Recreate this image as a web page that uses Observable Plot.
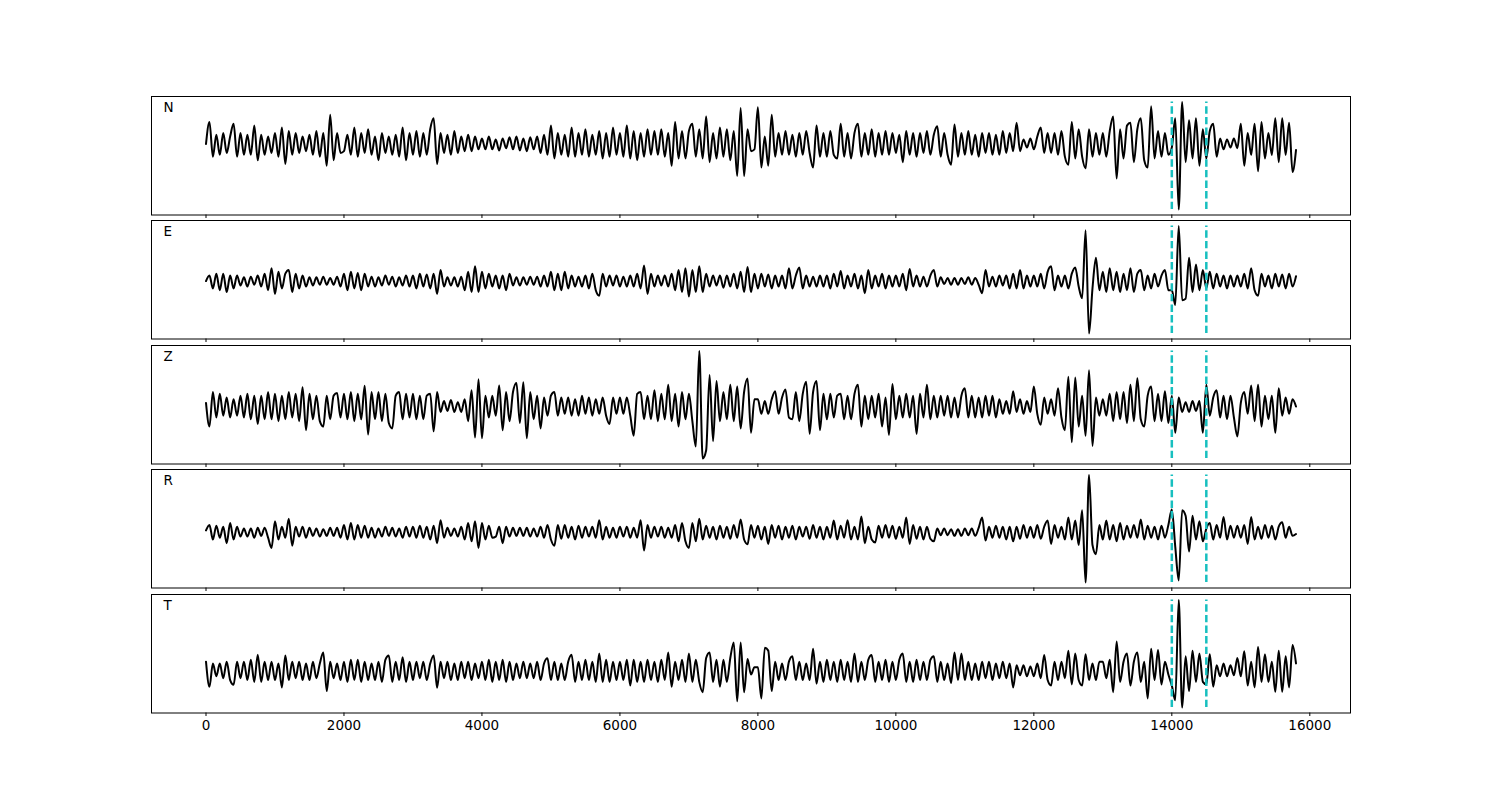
<!DOCTYPE html>
<html><head><meta charset="utf-8">
<script src="https://cdn.jsdelivr.net/npm/d3@7"></script>
<script src="https://cdn.jsdelivr.net/npm/@observablehq/plot@0.6"></script>
<style>
body{margin:0;background:#fff;}
#fig{position:relative;width:1500px;height:800px;font-family:"DejaVu Sans",sans-serif;}
#fig svg{position:absolute;left:0;overflow:visible;max-width:none;}
</style>
</head><body><div id="fig"></div>
<script>
// sample spacing of the traces (time units)
const dt = 50;
const channels = ["N", "E", "Z", "R", "T"];
const picks = [14000, 14500];
const xTicks = [0, 2000, 4000, 6000, 8000, 10000, 12000, 14000, 16000];

const traceN = [
0,60,-35,25,-30,30,-25,20,55,-35,30,-30,25,-30,50,-45,25,-30,20,-25,
30,-35,45,-55,35,-30,30,-25,20,-20,25,-30,35,-35,30,-60,80,-45,30,-25,
-20,25,-30,45,-35,30,-25,40,-30,20,-45,30,-25,20,-30,25,-35,45,-45,30,
-30,35,-35,30,-30,40,70,-55,30,-25,25,-30,35,-25,20,-20,25,-20,20,-15,
15,-15,20,-15,12,-18,15,-12,18,-15,20,-18,15,-20,18,-15,20,-25,25,-30,
50,-40,30,-30,25,-35,45,-35,30,-30,40,-35,25,-30,35,-40,30,-35,45,-30,
30,-35,50,-40,35,-45,30,-35,40,-30,35,-30,40,-35,30,-60,60,-40,35,-40,
35,55,-35,40,-40,75,-50,30,-40,45,-35,40,-45,35,-88,98,-88,40,-20,-15,
100,-65,20,-60,80,-35,30,-30,35,-30,25,-35,30,-30,35,-25,-65,50,-35,30,
-35,35,-30,-40,55,-35,30,-40,30,55,-35,30,-30,40,-35,30,-30,35,-30,30,
-25,25,-50,35,-30,30,-35,30,-25,35,-30,25,48,-35,30,-30,-57,53,-35,30,
-30,35,-30,25,-35,30,-25,30,-30,25,-30,35,-25,30,-20,58,-20,12,-10,15,
-15,20,45,-25,30,-25,30,-30,35,-35,-57,60,-40,40,-35,-67,40,-35,30,-30,
30,-35,35,75,-95,40,-40,50,58,-50,40,70,-45,-65,103,-40,35,-35,30,-30,
-10,70,-180,115,-50,65,-40,70,-60,40,-40,35,55,-35,15,-15,12,-10,15,-12,
55,-60,30,-30,55,-75,60,-40,30,-30,70,-50,70,-30,58,-77,-17
];

const traceE = [
0,15,-20,20,-25,20,-30,15,-20,15,-12,10,-15,12,-10,15,-15,20,-25,35,
-35,25,-20,20,30,-30,20,-20,15,-15,10,-12,10,-10,12,-10,8,-10,12,-15,
20,-25,25,-20,22,-25,20,-15,12,-15,10,-12,15,-10,12,-15,10,-12,15,-15,
15,-20,20,-15,18,-20,20,-35,30,-15,10,-12,10,-15,12,-25,25,-30,40,-30,
25,-20,20,-15,15,-20,15,-25,20,-12,10,-12,10,-10,12,-10,12,-15,15,-15,
25,-25,20,-25,25,-20,15,-15,12,-15,15,-20,20,-25,-40,20,-15,15,-12,15,
-15,12,-15,15,-15,20,-20,42,-35,20,-15,15,-12,15,-15,20,-25,30,-30,35,
-42,30,-30,40,-30,20,-15,15,-12,15,-18,15,-15,20,-20,25,-30,38,-30,20,
-20,20,-15,18,-20,15,-15,15,-20,35,-20,15,37,-20,15,-15,12,-15,15,-15,
15,-20,20,-15,27,-20,15,-15,20,-20,15,-33,30,-20,15,-15,20,-20,15,-15,
15,-15,20,-25,33,-15,15,-15,12,-15,15,30,-15,10,-8,8,-10,8,-10,8,
-8,10,-10,8,-10,-33,30,-15,12,-15,15,-12,15,-20,20,-20,30,-20,15,-15,
15,-15,20,-20,25,40,-25,15,-15,15,-20,20,37,-15,-47,138,-143,-20,63,-25,
25,-30,35,-25,25,-30,20,-25,35,-30,20,30,-25,15,-20,20,-15,15,30,-25,
-25,-65,150,-52,-48,63,-30,45,-25,30,-20,25,-20,20,-15,15,-20,15,-15,15,
-15,20,-20,35,-25,-40,20,-15,15,-20,20,-15,18,-20,20,-15,13
];

const traceZ = [
10,-55,40,-30,35,-25,25,-30,20,-25,30,-30,35,-35,30,-48,30,-35,40,-35,
35,-40,30,-35,40,-30,35,-40,53,-65,35,-35,30,-40,-55,30,-35,30,37,-30,
35,-35,40,-40,35,-35,57,-77,40,-35,40,-40,35,-45,-60,30,40,-35,35,-30,
35,-35,30,-35,30,35,-68,40,-15,15,-12,18,-15,12,-15,20,-40,45,-85,75,
-87,30,-30,30,-25,58,-65,40,-40,40,65,-45,67,-87,40,-35,30,-60,25,-25,
30,40,-25,25,-20,25,-25,20,-25,30,-20,25,-25,20,-20,25,-25,-48,25,-20,
25,-20,25,-25,-80,35,40,-35,30,-35,45,-40,35,-35,60,-40,35,-55,40,-35,
35,-40,-110,153,-143,-120,87,-95,70,-40,40,-35,60,-40,55,-60,40,77,-72,20,
20,-20,15,-20,20,42,-20,25,47,-30,-35,40,-40,35,68,-75,40,70,-65,35,
-35,35,-30,30,35,-35,30,-35,35,60,-55,30,-35,30,-30,35,-55,25,-78,62,
-35,30,-30,35,-30,30,-75,35,-30,60,-35,30,-30,30,-25,30,-30,25,-30,30,
50,-30,30,-30,25,-30,30,-25,30,-30,20,-20,15,-20,42,-15,20,-20,15,-15,
55,-20,-50,25,-20,20,-25,50,-30,-65,82,-98,80,-55,30,-80,100,-108,25,-25,
20,-25,35,-40,40,-35,40,-45,60,-40,78,-35,-55,30,55,-40,35,-40,42,-45,
30,-72,25,-15,12,-15,15,-12,15,-72,60,-25,25,45,-30,30,-35,30,-30,-82,
10,40,-20,58,-40,60,-55,30,-35,30,-72,50,-25,25,-20,20,0
];

const traceR = [
5,20,-20,18,-15,15,-30,25,-20,15,-12,10,-12,10,-15,12,-10,12,-15,-43,
30,-20,15,-15,37,-37,15,-12,15,-15,12,-10,10,-12,8,-10,12,-10,12,-15,
20,-20,25,-20,20,-15,18,-15,12,-15,10,-12,15,-10,12,-12,10,-15,15,-12,
15,-15,18,-15,15,-20,18,-30,33,-15,12,-10,10,-12,15,-20,25,-25,30,-43,
25,-20,18,-15,-12,15,-30,15,-12,12,-10,12,-10,12,-12,10,-12,15,-15,20,
-20,-37,20,-18,20,-15,15,-20,18,-15,15,-12,15,-15,33,-20,15,-15,12,-15,
15,-12,15,-15,12,-15,33,-50,20,-15,15,-12,15,-15,12,-15,20,-25,25,-25,
-43,25,-25,37,-20,18,-15,15,-20,18,-15,15,-18,20,-15,35,-20,-33,20,-15,
18,-20,15,-32,20,-15,18,-20,15,-15,18,-20,15,-12,15,-18,20,-15,15,-20,
15,-15,32,-20,18,-15,33,-20,15,-20,43,-30,15,-20,-28,18,-15,20,-15,18,
-18,15,-15,40,-32,20,-18,15,-20,15,-18,-25,10,-8,10,-8,8,-10,8,-10,
10,-8,10,-10,12,40,-23,15,-15,18,-15,15,-20,15,-25,15,-18,20,-15,15,
-15,20,-18,15,32,-32,20,-15,15,-20,40,-20,32,-35,60,-138,157,-35,-60,20,
-20,32,-20,20,-25,25,-20,18,-15,20,-15,35,-20,18,-15,15,-20,18,-15,20,
62,-40,-132,60,45,-53,45,-20,30,-25,10,25,-20,20,-15,42,-20,18,-15,18,
-15,20,-32,42,-20,15,-18,20,-15,18,-20,15,27,-15,15,-10,-5
];

const traceT = [
25,-43,20,-15,20,-20,25,-25,-38,25,-20,25,-25,30,-30,44,-30,25,-25,25,
-25,20,-45,42,-25,25,-20,25,-25,20,-25,25,-20,20,50,-55,25,-20,20,-25,
25,-30,30,-25,30,-30,25,-25,20,-25,25,-30,30,42,-30,25,-25,37,-30,25,
-25,25,-20,25,-25,20,42,-46,25,-20,25,-25,20,-25,25,-20,25,-25,20,-20,
25,-25,30,-30,25,-25,30,-30,25,-25,20,-20,25,-20,20,-20,25,-25,20,34,
-25,25,-25,20,-25,25,44,-30,25,-25,30,-25,25,-30,47,-30,30,-30,25,-25,
25,-25,30,-40,30,-30,25,-30,30,-25,25,-30,30,-25,50,-43,25,-25,30,-30,
47,-30,30,-30,-58,35,50,-30,30,-43,30,-30,35,77,-83,77,-58,32,-10,10,
10,-75,63,55,-55,25,-25,20,-25,25,40,-25,25,-25,20,-25,60,-35,25,-30,
30,-25,25,-30,30,-25,25,-30,47,-30,25,-25,30,43,-30,25,-25,30,-30,25,
-25,30,47,-30,25,-30,30,-25,25,-25,30,40,-30,25,-25,20,-33,50,-25,47,
-25,25,-25,20,-25,25,-20,25,-25,20,-20,25,-20,20,-45,15,-12,15,-15,12,
-15,20,-20,43,-25,-40,25,-25,25,-20,55,-37,47,-25,-40,45,-25,20,-25,25,
25,-20,30,-58,80,-30,25,47,-40,25,50,-30,25,-75,60,-25,57,-37,25,-10,
-40,-80,193,-100,40,-55,55,-30,47,-30,-37,45,-43,15,-15,20,-15,15,-12,35,
-15,53,-40,25,-45,65,-30,45,-30,25,-57,55,-57,40,-45,70,20
];

const traces = [traceN, traceE, traceZ, traceR, traceT];
const panelTops = [96, 220.4, 344.8, 469.2, 593.5];
const panelH = 118.5;
const fig = document.getElementById("fig");

traces.forEach((vals, k) => {
  const last = k === traces.length - 1;
  const data = vals.map((v, i) => ({t: i * dt, v}));
  const [lo, hi] = d3.extent(vals);
  const pad = (hi - lo) * 0.05;
  const mb = last ? 40 : 5;
  const plot = Plot.plot({
    width: 1500,
    height: panelH + mb,
    marginLeft: 151,
    marginRight: 150,
    marginTop: 0,
    marginBottom: mb,
    x: {domain: [-790, 16590], label: null},
    y: {domain: [lo - pad, hi + pad], axis: null},
    style: {background: "none", fontFamily: "DejaVu Sans, sans-serif", fontSize: "13.5px", color: "black"},
    marks: [
      Plot.line(data, {x: "t", y: "v", stroke: "black", strokeWidth: 2, strokeLinejoin: "round", curve: "monotone-x"}),
      Plot.ruleX(picks.map(p => ({p, y1: lo, y2: hi})), {x: "p", y1: "y1", y2: "y2", stroke: "#17bfbf", strokeWidth: 2.5, strokeDasharray: "7.4,3.2"}),
      Plot.frame({stroke: "black", strokeWidth: 1}),
      Plot.axisX(xTicks, {tickSize: 3.5, tickPadding: 4, label: null, tickFormat: last ? (d => String(d)) : (() => ""), fontSize: 13.5}),
      Plot.text([channels[k]], {frameAnchor: "top-left", dx: 12, dy: 6, textAnchor: "start", lineAnchor: "top", fontSize: 13.5, fill: "black"})
    ]
  });
  plot.style.top = panelTops[k] + "px";
  fig.appendChild(plot);
});
</script>
</body></html>
